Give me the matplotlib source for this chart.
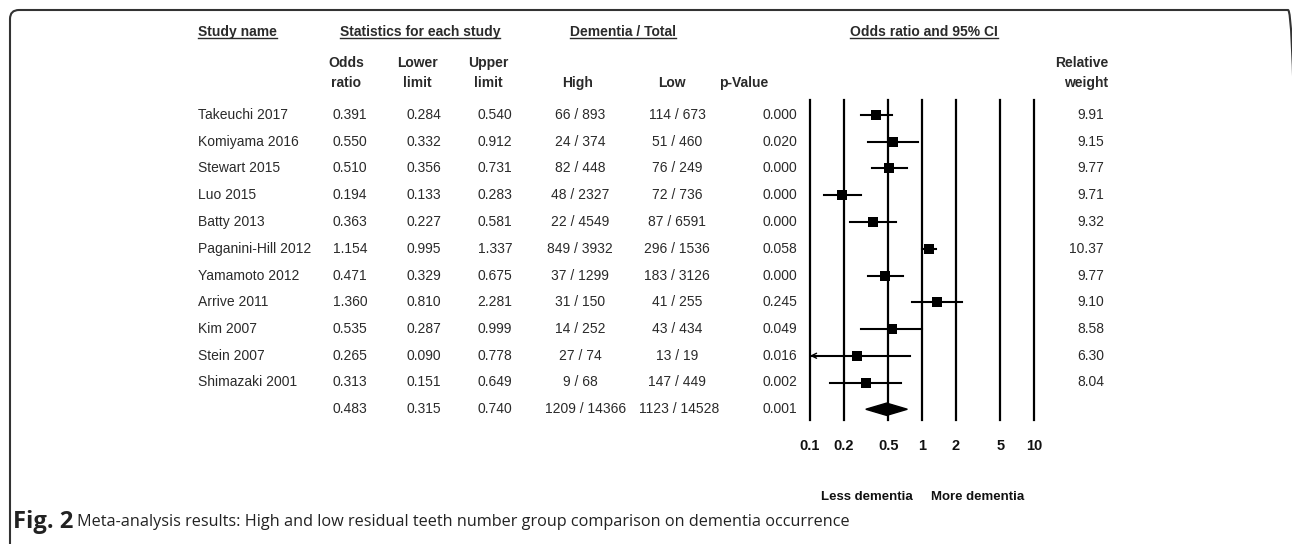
import matplotlib
matplotlib.use("Agg")
import matplotlib.pyplot as plt
import matplotlib.transforms as mtransforms
from matplotlib.patches import FancyBboxPatch
from matplotlib.lines import Line2D
from matplotlib.ticker import NullLocator

plt.rcParams['font.family'] = ['Liberation Sans', 'DejaVu Sans']

# Study data
studies = ["Takeuchi 2017", "Komiyama 2016", "Stewart 2015", "Luo 2015", "Batty 2013",
           "Paganini-Hill 2012", "Yamamoto 2012", "Arrive 2011", "Kim 2007", "Stein 2007",
           "Shimazaki 2001"]
odds_ratio = [0.391, 0.550, 0.510, 0.194, 0.363, 1.154, 0.471, 1.360, 0.535, 0.265, 0.313]
lower_limit = [0.284, 0.332, 0.356, 0.133, 0.227, 0.995, 0.329, 0.810, 0.287, 0.090, 0.151]
upper_limit = [0.540, 0.912, 0.731, 0.283, 0.581, 1.337, 0.675, 2.281, 0.999, 0.778, 0.649]
high_total = ["66 / 893", "24 / 374", "82 / 448", "48 / 2327", "22 / 4549", "849 / 3932",
              "37 / 1299", "31 / 150", "14 / 252", "27 / 74", "9 / 68"]
low_total = ["114 / 673", "51 / 460", "76 / 249", "72 / 736", "87 / 6591", "296 / 1536",
             "183 / 3126", "41 / 255", "43 / 434", "13 / 19", "147 / 449"]
p_values = [0.000, 0.020, 0.000, 0.000, 0.000, 0.058, 0.000, 0.245, 0.049, 0.016, 0.002]
rel_weight = [9.91, 9.15, 9.77, 9.71, 9.32, 10.37, 9.77, 9.10, 8.58, 6.30, 8.04]

pooled_or, pooled_lower, pooled_upper = 0.483, 0.315, 0.740
pooled_high, pooled_low, pooled_p = "1209 / 14366", "1123 / 14528", 0.001

tick_values = [0.1, 0.2, 0.5, 1, 2, 5, 10]
tick_labels = ["0.1", "0.2", "0.5", "1", "2", "5", "10"]

W, H = 1292, 544
fig = plt.figure(figsize=(W / 100, H / 100), dpi=100)
fig.patch.set_facecolor("white")


def fx(x):
    return x / W


def fy(y):
    return 1 - y / H


TXT = "#2a2a2a"
ROW0, ROWSTEP = 115, 26.75

# forest panel
ax = fig.add_axes([fx(810), fy(420), fx(1034) - fx(810), fy(100) - fy(420)])
ax.set_xscale("log")
ax.set_xlim(0.1, 10)
ax.set_ylim((420 - ROW0) / ROWSTEP, (100 - ROW0) / ROWSTEP)
ax.patch.set_visible(False)
for s in ax.spines.values():
    s.set_visible(False)
ax.set_yticks([])
ax.set_xticks(tick_values)
ax.set_xticklabels(tick_labels, fontweight="bold", fontsize=10.5, color="#111111")
ax.xaxis.set_minor_locator(NullLocator())
ax.tick_params(axis="x", length=0, pad=14)

for t in tick_values:
    ax.axvline(t, color="black", lw=1.6, clip_on=False, zorder=1)

for i, (est, lo, hi, w) in enumerate(zip(odds_ratio, lower_limit, upper_limit, rel_weight)):
    ax.plot([max(lo, 0.1), hi], [i, i], color="black", lw=1.5, zorder=2)
    if lo < 0.1:
        ax.annotate("", xy=(0.1, i), xytext=(0.125, i),
                    arrowprops=dict(arrowstyle="->", color="black", lw=1.0,
                                    shrinkA=0, shrinkB=0, mutation_scale=9))
    ax.plot(est, i, marker="s", ms=7.0 * (w / 9.5) ** 0.15, color="black",
            markeredgewidth=0, zorder=3)

yp = len(studies)
ax.fill([pooled_lower, pooled_or, pooled_upper, pooled_or],
        [yp, yp - 0.23, yp, yp + 0.23], color="black", zorder=3)

# table text
tr = mtransforms.blended_transform_factory(fig.transFigure, ax.transData)
kw = dict(transform=tr, va="center", fontsize=10, color=TXT)
for i in range(len(studies)):
    fig.text(fx(198), i, studies[i], ha="left", **kw)
    fig.text(fx(350), i, f"{odds_ratio[i]:.3f}", ha="center", **kw)
    fig.text(fx(424), i, f"{lower_limit[i]:.3f}", ha="center", **kw)
    fig.text(fx(495), i, f"{upper_limit[i]:.3f}", ha="center", **kw)
    fig.text(fx(580), i, high_total[i], ha="center", **kw)
    fig.text(fx(677), i, low_total[i], ha="center", **kw)
    fig.text(fx(780), i, f"{p_values[i]:.3f}", ha="center", **kw)
    fig.text(fx(1104), i, f"{rel_weight[i]:.2f}", ha="right", **kw)

fig.text(fx(350), yp, f"{pooled_or:.3f}", ha="center", **kw)
fig.text(fx(424), yp, f"{pooled_lower:.3f}", ha="center", **kw)
fig.text(fx(495), yp, f"{pooled_upper:.3f}", ha="center", **kw)
fig.text(fx(586), yp, pooled_high, ha="center", **kw)
fig.text(fx(679), yp, pooled_low, ha="center", **kw)
fig.text(fx(780), yp, f"{pooled_p:.3f}", ha="center", **kw)

# headers
hkw = dict(va="center", fontsize=10, fontweight="bold", color=TXT)
underlined = [
    fig.text(fx(198), fy(32), "Study name", ha="left", **hkw),
    fig.text(fx(420), fy(32), "Statistics for each study", ha="center", **hkw),
    fig.text(fx(623), fy(32), "Dementia / Total", ha="center", **hkw),
    fig.text(fx(924), fy(32), "Odds ratio and 95% CI", ha="center", **hkw),
]
for x, top, bottom in [(346, "Odds", "ratio"), (417, "Lower", "limit"), (488, "Upper", "limit")]:
    fig.text(fx(x), fy(63), top, ha="center", **hkw)
    fig.text(fx(x), fy(83), bottom, ha="center", **hkw)
fig.text(fx(578), fy(83), "High", ha="center", **hkw)
fig.text(fx(672), fy(83), "Low", ha="center", **hkw)
fig.text(fx(744), fy(83), "p-Value", ha="center", **hkw)
fig.text(fx(1108), fy(63), "Relative", ha="right", **hkw)
fig.text(fx(1108), fy(83), "weight", ha="right", **hkw)

fig.text(fx(867), fy(497), "Less dementia", ha="center", va="center",
         fontsize=9.5, fontweight="bold", color="#111111")
fig.text(fx(978), fy(497), "More dementia", ha="center", va="center",
         fontsize=9.5, fontweight="bold", color="#111111")

# caption
cap_family = ["Open Sans", "DejaVu Sans"]
cap1 = fig.text(fx(13), fy(522), "Fig. 2", ha="left", va="center", fontsize=13,
                fontweight="bold", family=cap_family, color="#222222")
cap2 = fig.text(fx(77), fy(522),
                "Meta-analysis results: High and low residual teeth number group comparison on dementia occurrence",
                ha="left", va="center", fontsize=13, family=cap_family, color="#222222")

# frame around the figure
frame = FancyBboxPatch((10, -40), 1287, H - 10 + 40, boxstyle="round,pad=0,rounding_size=9",
                       transform=None, fill=False, edgecolor="#333333", lw=1.5)
fig.add_artist(frame)

fig.canvas.draw()
renderer = fig.canvas.get_renderer()

# fit caption widths
bb1 = cap1.get_window_extent(renderer)
cap1.set_fontsize(13 * 60 / bb1.width)
bb2 = cap2.get_window_extent(renderer)
cap2.set_fontsize(13 * 772 / bb2.width)
fig.canvas.draw()

inv = fig.transFigure.inverted()
for t in underlined:
    bb = t.get_window_extent(renderer)
    (x0, y0), (x1, _) = inv.transform([(bb.x0, bb.y0 + 1), (bb.x1, bb.y0 + 1)])
    fig.add_artist(Line2D([x0, x1], [y0, y0], transform=fig.transFigure,
                          color=TXT, lw=1.0))

fig.savefig("out.png", dpi=100)
